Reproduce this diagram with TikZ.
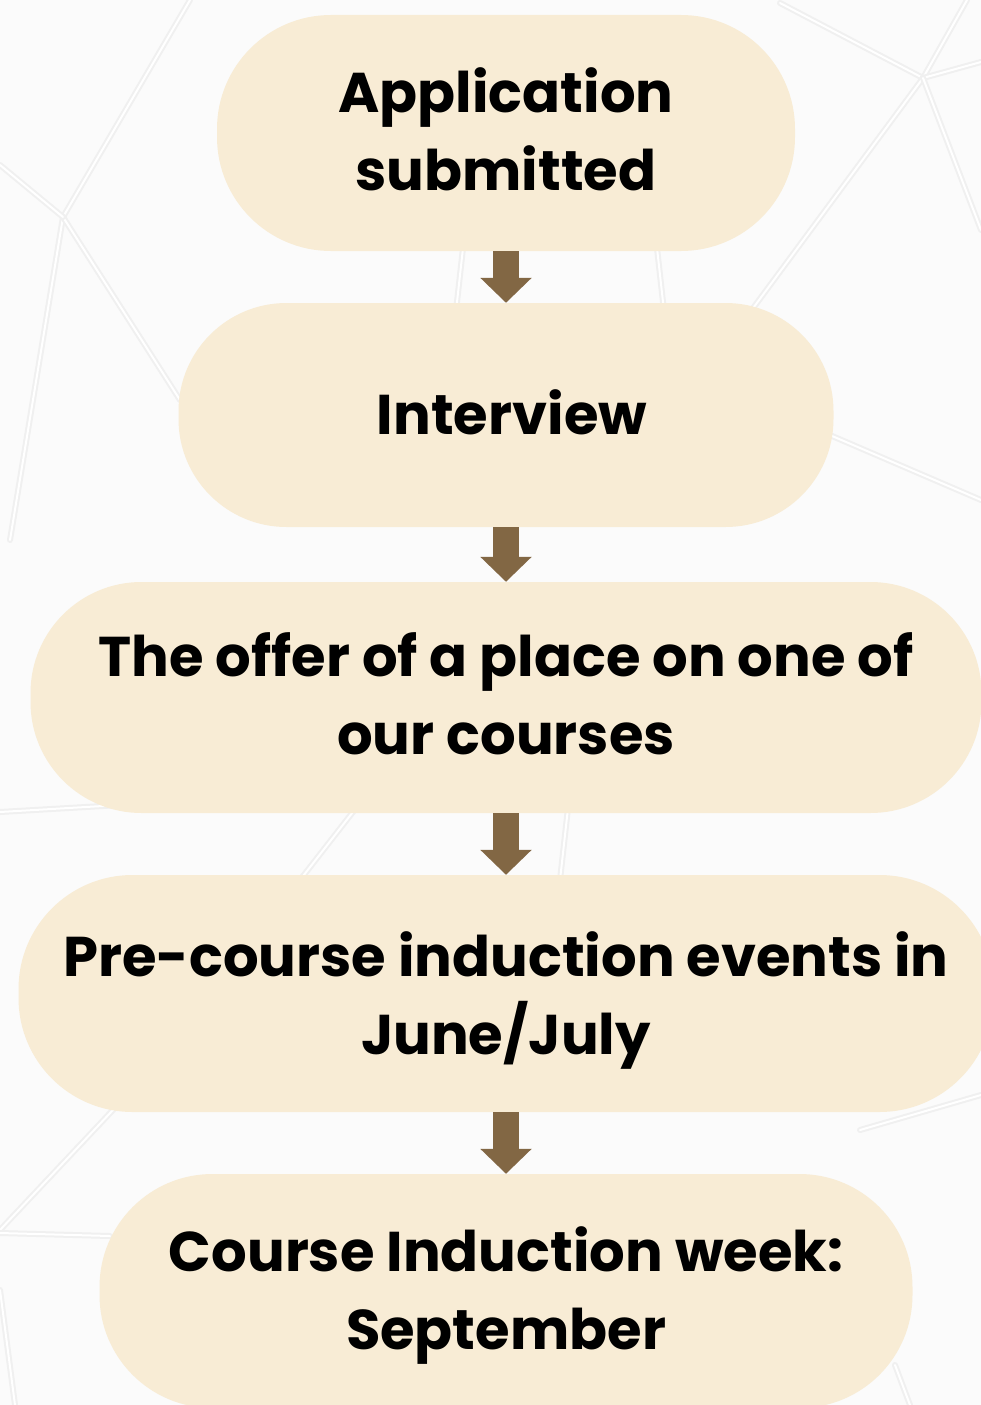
\documentclass[tikz,border=0pt]{standalone}
\usepackage{fontspec}
\setmainfont{Poppins}
\usetikzlibrary{arrows.meta}
\definecolor{boxfill}{RGB}{248,236,213}
\definecolor{arrowbrown}{RGB}{130,103,68}
\definecolor{bgcol}{RGB}{251,251,251}
\definecolor{bgline}{RGB}{240,240,240}
\begin{document}
\begin{tikzpicture}[x=1pt,y=-1pt,
  stage/.style={fill=boxfill, draw=none, inner sep=0pt},
  stagetext/.style={text=black, align=center, inner sep=0pt,
    font=\fontsize{56}{78}\selectfont\bfseries},
  flow/.style={arrowbrown, line width=26pt, -{Triangle[width=50pt,length=25pt]}},
  bgl/.style={bgline, line width=6pt, line cap=round},
  bglw/.style={white, line width=2pt, line cap=round}]
\useasboundingbox (0,0) rectangle (981,1405);
\clip (0,0) rectangle (981,1405);
\fill[bgcol] (0,0) rectangle (981,1405);
% faint background network
\foreach \a/\b in {{(190,0)}/{(63,217)}, {(63,217)}/{(10,540)}, {(63,217)}/{(180,400)},
  {(0,165)}/{(63,217)}, {(780,3)}/{(923,78)}, {(923,78)}/{(967,0)}, {(923,78)}/{(981,62)},
  {(923,78)}/{(700,380)}, {(923,78)}/{(981,230)}, {(760,405)}/{(981,500)},
  {(0,812)}/{(120,805)}, {(160,1060)}/{(0,1230)}, {(0,1233)}/{(110,1236)},
  {(0,1290)}/{(15,1405)}, {(860,1130)}/{(981,1095)}, {(895,1365)}/{(910,1405)},
  {(465,230)}/{(455,320)}, {(655,230)}/{(665,320)}, {(300,880)}/{(370,790)}, {(560,880)}/{(570,790)}} {
  \draw[bgl] \a -- \b;
  \draw[bglw] \a -- \b;
}
% stages
\node[stage, minimum width=578pt, minimum height=236pt, rounded corners=114pt] (b1) at (506,133) {};
\node[stage, minimum width=655pt, minimum height=224pt, rounded corners=108pt] (b2) at (506,415) {};
\node[stage, minimum width=951pt, minimum height=231pt, rounded corners=111pt] (b3) at (506,697.5) {};
\node[stage, minimum width=975pt, minimum height=237pt, rounded corners=114pt] (b4) at (506,993.5) {};
\node[stage, minimum width=813pt, minimum height=234pt, rounded corners=113pt] (b5) at (506,1291) {};
\node[stagetext, yshift=4pt] (t1) at (b1.center) {Application\\submitted};
\node[stagetext, yshift=3pt, xshift=6pt] (t2) at (b2.center) {Interview};
\node[stagetext, yshift=4pt] (t3) at (b3.center) {The offer of a place on one of\\our courses};
\node[stagetext, yshift=-7pt] (t4) at (b4.center) {Pre-course induction events in\\June/July};
\node[stagetext, yshift=-5pt] (t5) at (b5.center) {Course Induction week:\\September};
% arrows
\draw[flow] (b1.south) -- (b2.north);
\draw[flow] (b2.south) -- (b3.north);
\draw[flow] (b3.south) -- (b4.north);
\draw[flow] (b4.south) -- (b5.north);
\end{tikzpicture}
\end{document}
